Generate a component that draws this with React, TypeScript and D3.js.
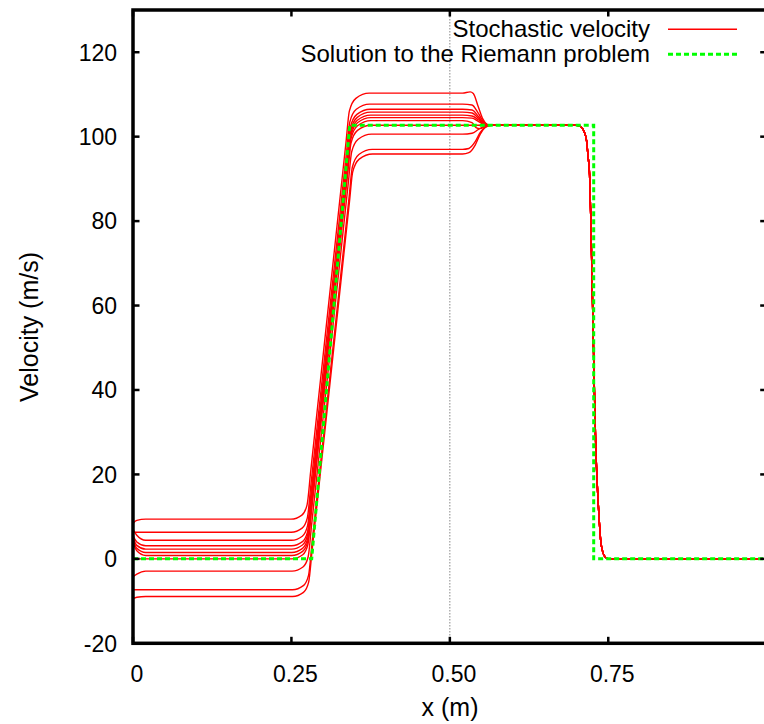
import React from "react";
import * as d3 from "d3";

type Pt = [number, number];

const WIDTH = 764;
const HEIGHT = 724;

// Axis ticks (the tick at x = 1 sits on the clipped right edge and carries no label)
const xTicks = [0, 0.25, 0.5, 0.75, 1];
const xTickLabels = ["0", "0.25", "0.50", "0.75"];
const yTicks = [-20, 0, 20, 40, 60, 80, 100, 120];

// Exact solution of the Riemann problem (x in m, velocity in m/s)
const riemannSolution: Pt[] = [
  [0, 0],
  [0.282, 0],
  [0.342, 102.7],
  [0.727, 102.7],
  [0.727, 0],
  [1, 0],
];

// Stochastic velocity realizations, up to the point where they rejoin the common state
const run01: Pt[] = [
  [0, 8.4], [0.006, 9.1], [0.02, 9.4], [0.2493, 9.4], [0.2665, 10.37], [0.2747, 12.8],
  [0.2803, 20.6], [0.3364, 99.1], [0.3414, 106.06], [0.3517, 109.08], [0.3728, 110.3],
  [0.52, 110.3], [0.532, 110.6], [0.537, 110.2], [0.545, 107.0], [0.552, 104.2],
  [0.558, 103.0], [0.565, 102.7],
];
const run02: Pt[] = [
  [0, 6.3], [0.02, 6.3], [0.2497, 6.3], [0.2669, 7.27], [0.2751, 9.7], [0.2807, 17.5],
  [0.3371, 96.5], [0.3421, 103.46], [0.3524, 106.48], [0.3735, 107.7],
  [0.52, 107.7], [0.535, 107.5], [0.545, 105.5], [0.553, 103.6], [0.56, 102.8], [0.566, 102.7],
];
const run03: Pt[] = [
  [0, 7.0], [0.006, 5.6], [0.02, 4.4], [0.25, 4.4], [0.2672, 5.37], [0.2754, 7.8],
  [0.281, 15.6], [0.338, 95.3], [0.343, 102.26], [0.3533, 105.28], [0.3744, 106.5],
  [0.52, 106.5], [0.535, 106.3], [0.545, 104.8], [0.553, 103.3], [0.56, 102.8], [0.566, 102.7],
];
const run04: Pt[] = [
  [0, 5.5], [0.006, 4.0], [0.02, 3.1], [0.2502, 3.1], [0.2674, 4.07], [0.2756, 6.5],
  [0.2812, 14.3], [0.3386, 94.6], [0.3436, 101.56], [0.3539, 104.58], [0.375, 105.8],
  [0.52, 105.8], [0.535, 105.6], [0.545, 104.4], [0.553, 103.2], [0.56, 102.8], [0.566, 102.7],
];
const run05: Pt[] = [
  [0, 5.0], [0.006, 3.2], [0.02, 2.3], [0.2502, 2.3], [0.2674, 3.27], [0.2756, 5.7],
  [0.2812, 13.5], [0.3387, 93.9], [0.3437, 100.86], [0.354, 103.88], [0.3751, 105.1],
  [0.52, 105.1], [0.535, 104.9], [0.545, 104.0], [0.553, 103.1], [0.56, 102.8], [0.566, 102.7],
];
const run06: Pt[] = [
  [0, 4.5], [0.006, 2.5], [0.02, 1.5], [0.2504, 1.5], [0.2676, 2.47], [0.2758, 4.9],
  [0.2814, 12.7], [0.3389, 93.3], [0.3439, 100.26], [0.3542, 103.28], [0.3753, 104.5],
  [0.52, 104.5], [0.535, 104.4], [0.545, 103.6], [0.553, 102.95], [0.56, 102.75], [0.566, 102.7],
];
const run07: Pt[] = [
  [0, 4.0], [0.006, 1.9], [0.02, 0.8], [0.2505, 0.8], [0.2677, 1.77], [0.2759, 4.2],
  [0.2815, 12.0], [0.339, 92.6], [0.344, 99.56], [0.3543, 102.58], [0.3754, 103.8],
  [0.52, 103.8], [0.535, 103.3], [0.542, 102.1], [0.548, 101.9], [0.555, 102.4], [0.562, 102.7],
];
const run08: Pt[] = [
  [0, 0], [0.02, 0], [0.2506, 0], [0.2678, 0.97], [0.276, 3.4], [0.2816, 11.2],
  [0.339, 91.5], [0.344, 98.46], [0.3543, 101.48], [0.3754, 102.7],
  [0.52, 102.7], [0.566, 102.7],
];
const run09: Pt[] = [
  [0, -4.2], [0.006, -3.6], [0.02, -2.9], [0.251, -2.9], [0.2682, -1.93], [0.2764, 0.5],
  [0.282, 8.3], [0.34, 89.4], [0.345, 96.36], [0.3553, 99.38], [0.3764, 100.6],
  [0.52, 100.6], [0.535, 100.8], [0.545, 101.7], [0.553, 102.4], [0.56, 102.65], [0.566, 102.7],
];
const run10: Pt[] = [
  [0, -7.3], [0.02, -7.3], [0.2516, -7.3], [0.2688, -6.33], [0.277, -3.9], [0.2826, 3.9],
  [0.3411, 85.8], [0.3461, 92.76], [0.3564, 95.78], [0.3775, 97.0],
  [0.52, 97.0], [0.53, 97.2], [0.54, 98.8], [0.548, 101.0], [0.556, 102.3], [0.565, 102.7],
];
const run11: Pt[] = [
  [0, -9.4], [0.006, -9.1], [0.02, -8.9], [0.2518, -8.9], [0.269, -7.93], [0.2772, -5.5],
  [0.2828, 2.3], [0.3417, 84.7], [0.3467, 91.66], [0.357, 94.68], [0.3781, 95.9],
  [0.52, 95.9], [0.53, 96.2], [0.54, 98.0], [0.548, 100.6], [0.556, 102.2], [0.565, 102.7],
];

// Common state and smeared shock shared by every realization
const convergedTail: Pt[] = [
  [0.58, 102.7], [0.7, 102.7], [0.706, 102.4], [0.71, 101.8], [0.7156, 99.2], [0.718, 95.5],
  [0.7205, 91], [0.7225, 80], [0.725, 62], [0.7275, 44], [0.73, 28], [0.7325, 18],
  [0.734, 13.5], [0.736, 8.5], [0.738, 4.4], [0.742, 1.3], [0.746, 0.3], [0.75, 0], [1, 0],
];

const realizations: Pt[][] = [
  run01, run02, run03, run04, run05, run06, run07, run08, run09, run10, run11,
];

const legendLabels = ["Stochastic velocity", "Solution to the Riemann problem"];

const FONT = "'Liberation Sans', Arial, Helvetica, sans-serif";
const RED = "#ff0000";
const GREEN = "#00ff00";

export default function App() {
  const left = 133;
  const right = 766.7;
  const top = 10;
  const bottom = 643.3;

  const x = d3.scaleLinear().domain([0, 1]).range([left, right]);
  const y = d3.scaleLinear().domain([-20, 130]).range([bottom, top]);

  const smooth = d3
    .line<Pt>()
    .x((d) => x(d[0]))
    .y((d) => y(d[1]))
    .curve(d3.curveMonotoneX);
  const straight = d3
    .line<Pt>()
    .x((d) => x(d[0]))
    .y((d) => y(d[1]));

  const tick = 6.5;

  return (
    <svg
      width={WIDTH}
      height={HEIGHT}
      style={{ position: "absolute", left: 0, top: 0, background: "#fff" }}
      fontFamily={FONT}
    >
      <rect x={0} y={0} width={WIDTH} height={HEIGHT} fill="#fff" />
      <defs>
        <clipPath id="plot-area">
          <rect x={left} y={top} width={right - left} height={bottom - top} />
        </clipPath>
      </defs>

      {/* dotted marker at x = 0.5 */}
      <line
        x1={x(0.5)}
        x2={x(0.5)}
        y1={top}
        y2={bottom}
        stroke="#888"
        strokeWidth={1}
        strokeDasharray="1.5,1.5"
      />

      <g clipPath="url(#plot-area)">
        {realizations.map((run, i) => (
          <path
            key={i}
            d={smooth(run.concat(convergedTail)) || ""}
            fill="none"
            stroke={RED}
            strokeWidth={1.4}
          />
        ))}
        <path
          d={straight(riemannSolution) || ""}
          fill="none"
          stroke={GREEN}
          strokeWidth={3}
          strokeDasharray="5,3"
        />
      </g>

      {/* frame */}
      <rect
        x={left}
        y={top}
        width={right - left}
        height={bottom - top}
        fill="none"
        stroke="#000"
        strokeWidth={3.5}
      />

      {/* y ticks */}
      {yTicks.map((t) => (
        <g key={"y" + t}>
          <line x1={left} x2={left + tick} y1={y(t)} y2={y(t)} stroke="#000" strokeWidth={2.5} />
          <line x1={right} x2={right - tick} y1={y(t)} y2={y(t)} stroke="#000" strokeWidth={2.5} />
          <text x={117} y={y(t)} dy="0.36em" textAnchor="end" fontSize={23} fill="#000">
            {t}
          </text>
        </g>
      ))}

      {/* x ticks */}
      {xTicks.map((t, i) => (
        <g key={"x" + t}>
          <line x1={x(t)} x2={x(t)} y1={bottom} y2={bottom - tick} stroke="#000" strokeWidth={2.5} />
          <line x1={x(t)} x2={x(t)} y1={top} y2={top + tick} stroke="#000" strokeWidth={2.5} />
          {xTickLabels[i] !== undefined && (
            <text x={x(t) + 4} y={682} textAnchor="middle" fontSize={23} fill="#000">
              {xTickLabels[i]}
            </text>
          )}
        </g>
      ))}

      {/* axis titles */}
      <text x={450} y={716} textAnchor="middle" fontSize={25} fill="#000">
        x (m)
      </text>
      <text
        transform={`translate(38, 327) rotate(-90)`}
        textAnchor="middle"
        fontSize={25}
        fill="#000"
      >
        Velocity (m/s)
      </text>

      {/* legend */}
      <text x={650} y={37} textAnchor="end" fontSize={24} fill="#000">
        {legendLabels[0]}
      </text>
      <line x1={668} x2={737} y1={29.3} y2={29.3} stroke={RED} strokeWidth={1.4} />
      <text x={650} y={62} textAnchor="end" fontSize={24} fill="#000">
        {legendLabels[1]}
      </text>
      <line
        x1={668}
        x2={737}
        y1={54.3}
        y2={54.3}
        stroke={GREEN}
        strokeWidth={3}
        strokeDasharray="5,3"
      />
    </svg>
  );
}
